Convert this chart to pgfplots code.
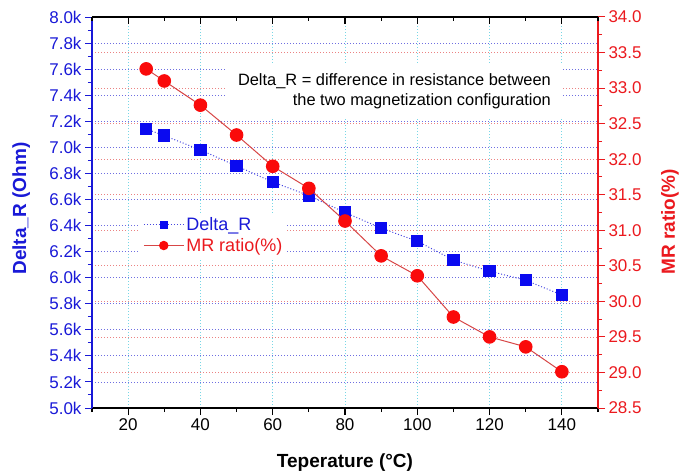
\documentclass[border=0pt]{standalone}
\usepackage{pgfplots}
\pgfplotsset{compat=1.18}
\usepackage{fontspec}
\setmainfont{Liberation Sans}

\definecolor{axblue}{RGB}{25,25,215}
\definecolor{axred}{RGB}{235,25,30}
\definecolor{mkblue}{RGB}{10,10,240}
\definecolor{mkred}{RGB}{250,10,10}
\definecolor{lnblue}{RGB}{70,70,225}
\definecolor{lnred}{RGB}{215,70,70}
\definecolor{gridblue}{RGB}{110,110,225}
\definecolor{gridred}{RGB}{235,130,130}
\definecolor{gridcyan}{RGB}{120,215,230}

\tikzset{dotgrid/.style={dash pattern=on 1pt off 2pt, line width=0.8pt}}
\pgfplotsset{
  base/.style={scale only axis, width=506pt, height=391pt,
    xmin=10, xmax=150, at={(0,0)}, anchor=south west,
    ticklabel style={font=\fontsize{17}{20}\selectfont},
    label style={font=\bfseries\fontsize{19}{22}\selectfont},
    /pgf/number format/assume math mode=true,
    major tick length=7pt, minor tick length=4pt},
}

\begin{document}
\begin{tikzpicture}
\path[use as bounding box] (-92pt,-64pt) rectangle (596pt,408pt);

% red grid of the right axis, drawn first so it stays under the data
\begin{axis}[base, ymin=28.5, ymax=34,
  xtick=\empty, ytick={28.5,29,...,34}, yticklabels={},
  axis line style={draw=none}, major tick length=0pt,
  ymajorgrids, y grid style={gridred, dotgrid}]
\end{axis}

% left axis: Delta_R
\begin{axis}[base, ymin=5000, ymax=8000,
  axis x line*=bottom, axis y line*=left, tick align=outside,
  xtick={20,40,...,140}, minor xtick={10,30,...,150},
  ytick={5000,5200,...,8000}, minor ytick={5100,5300,...,7900},
  yticklabels={5.0k,5.2k,5.4k,5.6k,5.8k,6.0k,6.2k,6.4k,6.6k,6.8k,7.0k,7.2k,7.4k,7.6k,7.8k,8.0k},
  y axis line style={axblue, line width=1.3pt},
  x axis line style={black, line width=1.5pt},
  x tick style={black, line width=1.2pt},
  y tick style={axblue, line width=1pt},
  yticklabel style={axblue},
  xlabel={Teperature (°C)},
  xlabel style={at={(axis description cs:0.5,0)}, yshift=-55pt, anchor=center},
  ylabel={Delta\_R (Ohm)},
  ylabel style={axblue, at={(axis description cs:-0.140,0.51)}, anchor=center},
  xmajorgrids, ymajorgrids,
  x grid style={gridcyan, dotgrid}, y grid style={gridblue, dotgrid}]
\addplot[lnblue, dotted, line width=1pt, mark=square*, mark size=5.7pt,
  mark options={solid, draw=mkblue, fill=mkblue}] coordinates {
  (25,7140) (30,7090) (40,6980) (50,6857) (60,6734) (70,6630) (80,6500)
  (90,6380) (100,6280) (110,6135) (120,6050) (130,5980) (140,5867)};
\end{axis}

% right axis: MR ratio
\begin{axis}[base, ymin=28.5, ymax=34,
  hide x axis, axis y line*=right, tick align=outside,
  ytick={28.5,29,...,34}, minor y tick num=1,
  y axis line style={axred, line width=1.3pt},
  y tick style={axred, line width=1pt},
  yticklabel style={axred, /pgf/number format/.cd, fixed, fixed zerofill, precision=1},
  ylabel={MR ratio(\%)},
  ylabel style={axred, at={(axis description cs:1.142,0.476)}, anchor=center},
  legend image code/.code={\draw[mark repeat=2,mark phase=2,#1]
    plot coordinates {(0pt,0pt) (20pt,0pt) (40pt,0pt)};},
  legend style={draw=none, fill=white, at={(rel axis cs:0.095,0.50)}, anchor=north west,
    font=\fontsize{18}{20}\selectfont, row sep=2pt, inner sep=3pt, nodes={inner sep=2pt}},
  legend cell align=left]
\addlegendimage{lnblue, dotted, line width=1pt, mark=square*, mark size=3.5pt,
  mark options={solid, draw=mkblue, fill=mkblue}}
\addlegendentry{\textcolor{axblue}{Delta\_R}}
\addlegendimage{lnred, line width=1pt, mark=*, mark size=4.2pt,
  mark options={solid, draw=mkred, fill=mkred}}
\addlegendentry{\textcolor{axred}{MR ratio(\%)}}
\addplot[lnred, line width=1pt, mark=*, mark size=6.3pt,
  mark options={solid, draw=mkred, fill=mkred}, forget plot] coordinates {
  (25,33.27) (30,33.10) (40,32.76) (50,32.34) (60,31.90) (70,31.59) (80,31.13)
  (90,30.64) (100,30.36) (110,29.78) (120,29.50) (130,29.36) (140,29.01)};
\node[anchor=east, align=right, fill=white, inner xsep=12pt, inner ysep=8pt,
  font=\fontsize{16.4}{20}\selectfont] at (rel axis cs:0.931,0.811)
  {Delta\_R = difference in resistance between\\the two magnetization configuration};
\end{axis}

% top axis: inward ticks only
\begin{axis}[base, ymin=0, ymax=1, hide y axis, axis x line*=top, tick align=inside,
  xtick={20,40,...,140}, minor xtick={10,30,...,150}, xticklabels={},
  x axis line style={black, line width=1.5pt},
  x tick style={black, line width=1.2pt}]
\end{axis}
\end{tikzpicture}
\end{document}
